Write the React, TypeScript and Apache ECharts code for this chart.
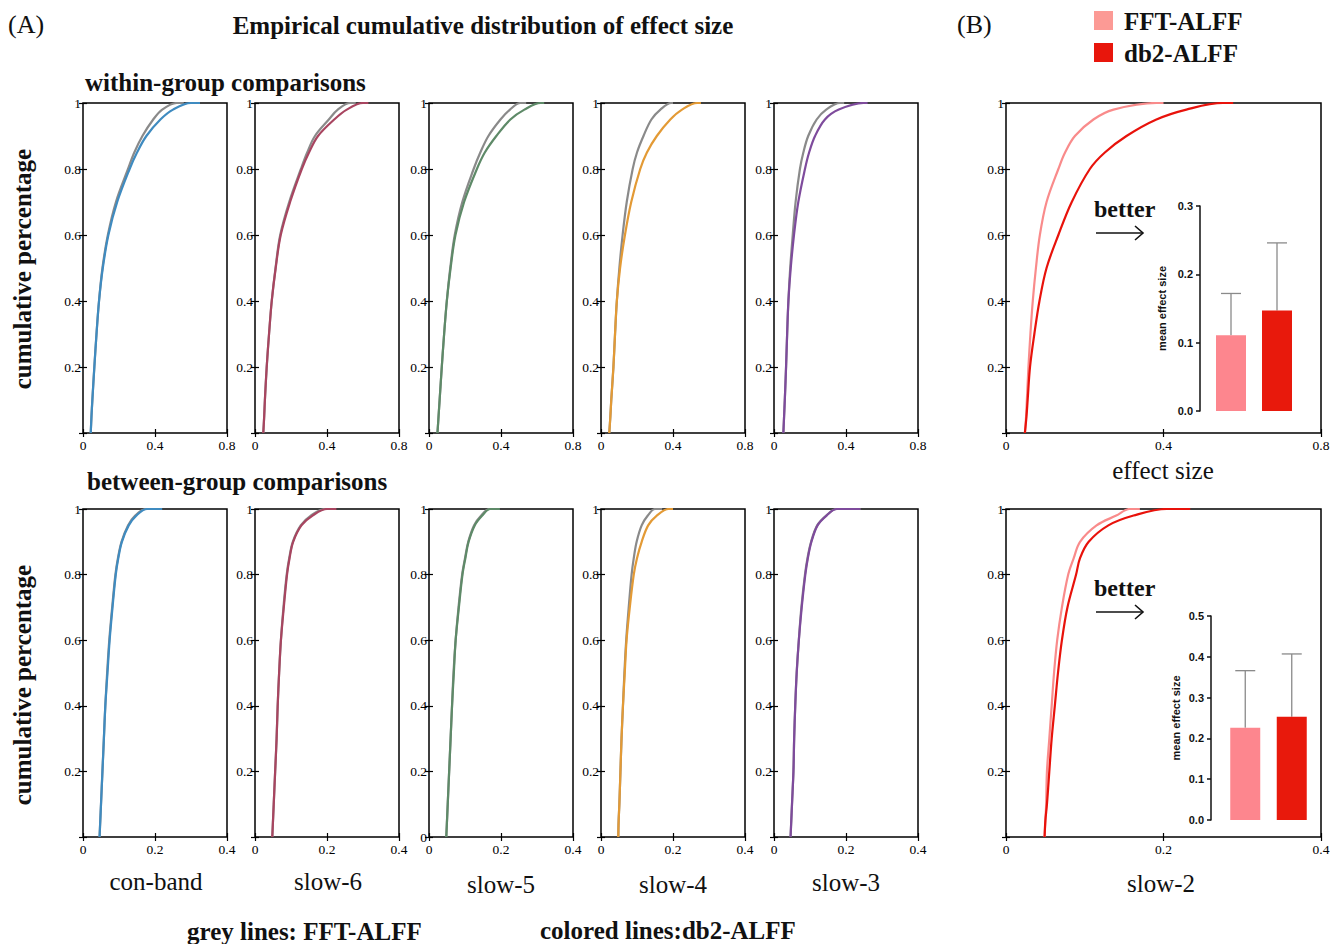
import React, { useEffect, useRef } from "react";
import * as echarts from "echarts";

// ---------- data ----------
const bandNames = ["con-band", "slow-6", "slow-5", "slow-4", "slow-3", "slow-2"];
const bandColors = ["#3f8bc0", "#a84560", "#5e8a68", "#e39a35", "#7e4b9c"];
const greyColor = "#8a8a8a";
const fftColor = "#f98b8b";
const db2Color = "#e8120b";
const fftBarColor = "#fd868e";
const db2BarColor = "#e8190c";

// cumulative levels (y) shared by every ECDF curve; last entry = tail end of the curve
const cumLevels = [0, 0.05, 0.1, 0.2, 0.3, 0.4, 0.5, 0.6, 0.7, 0.8, 0.85, 0.9, 0.95, 0.98, 1, 1];

// within-group: effect size at each cumulative level
const withinGrey = [
  [0.043, 0.047, 0.052, 0.063, 0.075, 0.089, 0.108, 0.138, 0.183, 0.25, 0.285, 0.33, 0.39, 0.44, 0.52, 0.56],
  [0.046, 0.051, 0.055, 0.065, 0.078, 0.093, 0.114, 0.14, 0.19, 0.255, 0.29, 0.333, 0.41, 0.46, 0.53, 0.56],
  [0.047, 0.053, 0.059, 0.071, 0.084, 0.099, 0.118, 0.143, 0.185, 0.248, 0.285, 0.33, 0.397, 0.45, 0.508, 0.54],
  [0.046, 0.052, 0.057, 0.069, 0.078, 0.088, 0.102, 0.12, 0.143, 0.176, 0.2, 0.236, 0.28, 0.33, 0.39, 0.4],
  [0.052, 0.056, 0.06, 0.067, 0.073, 0.08, 0.09, 0.104, 0.12, 0.144, 0.163, 0.19, 0.237, 0.29, 0.367, 0.39],
];
const withinColor = [
  [0.043, 0.047, 0.052, 0.063, 0.075, 0.089, 0.11, 0.141, 0.19, 0.259, 0.3, 0.352, 0.43, 0.5, 0.6, 0.65],
  [0.046, 0.051, 0.055, 0.065, 0.078, 0.093, 0.115, 0.143, 0.195, 0.26, 0.3, 0.35, 0.44, 0.51, 0.6, 0.63],
  [0.047, 0.053, 0.059, 0.071, 0.084, 0.099, 0.12, 0.147, 0.195, 0.266, 0.31, 0.374, 0.452, 0.53, 0.62, 0.64],
  [0.046, 0.052, 0.057, 0.069, 0.078, 0.088, 0.106, 0.133, 0.168, 0.218, 0.255, 0.31, 0.385, 0.45, 0.535, 0.555],
  [0.052, 0.056, 0.06, 0.067, 0.073, 0.08, 0.093, 0.111, 0.135, 0.172, 0.195, 0.228, 0.283, 0.36, 0.497, 0.52],
];
// between-group
const betweenGrey = [
  [0.046, 0.048, 0.05, 0.054, 0.058, 0.062, 0.067, 0.073, 0.081, 0.09, 0.097, 0.107, 0.125, 0.145, 0.175, 0.21],
  [0.048, 0.05, 0.052, 0.056, 0.06, 0.063, 0.067, 0.072, 0.079, 0.088, 0.095, 0.105, 0.127, 0.155, 0.195, 0.22],
  [0.048, 0.05, 0.052, 0.056, 0.06, 0.064, 0.068, 0.074, 0.082, 0.092, 0.1, 0.109, 0.125, 0.145, 0.168, 0.19],
  [0.048, 0.049, 0.051, 0.054, 0.057, 0.061, 0.065, 0.07, 0.077, 0.085, 0.091, 0.099, 0.113, 0.13, 0.15, 0.17],
  [0.046, 0.048, 0.05, 0.054, 0.056, 0.059, 0.063, 0.069, 0.076, 0.086, 0.093, 0.103, 0.12, 0.145, 0.174, 0.24],
];
const betweenColor = [
  [0.046, 0.048, 0.05, 0.054, 0.058, 0.062, 0.068, 0.074, 0.082, 0.091, 0.098, 0.108, 0.127, 0.148, 0.178, 0.22],
  [0.048, 0.05, 0.052, 0.056, 0.06, 0.063, 0.067, 0.072, 0.08, 0.089, 0.096, 0.106, 0.129, 0.16, 0.2, 0.226],
  [0.048, 0.05, 0.052, 0.056, 0.06, 0.064, 0.069, 0.074, 0.083, 0.093, 0.101, 0.11, 0.127, 0.148, 0.17, 0.197],
  [0.048, 0.049, 0.051, 0.054, 0.057, 0.061, 0.066, 0.071, 0.08, 0.091, 0.1, 0.113, 0.131, 0.155, 0.188, 0.2],
  [0.046, 0.048, 0.05, 0.054, 0.056, 0.059, 0.063, 0.069, 0.077, 0.087, 0.094, 0.104, 0.121, 0.146, 0.175, 0.24],
];
// slow-2 (panel B)
const slow2WithinFFT = [0.048, 0.051, 0.053, 0.057, 0.062, 0.068, 0.076, 0.086, 0.103, 0.133, 0.15, 0.175, 0.222, 0.273, 0.382, 0.4];
const slow2WithinDb2 = [0.048, 0.052, 0.055, 0.061, 0.072, 0.085, 0.103, 0.133, 0.167, 0.213, 0.251, 0.306, 0.382, 0.458, 0.551, 0.577];
const slow2BetweenFFT = [0.049, 0.05, 0.051, 0.052, 0.055, 0.058, 0.061, 0.065, 0.071, 0.079, 0.086, 0.094, 0.115, 0.14, 0.157, 0.17];
const slow2BetweenDb2 = [0.049, 0.05, 0.052, 0.055, 0.058, 0.062, 0.066, 0.071, 0.078, 0.089, 0.094, 0.105, 0.13, 0.162, 0.204, 0.234];

// inset bar charts (mean effect size, mean + sd)
const methodNames = ["FFT-ALFF", "db2-ALFF"];
const withinMeans = [0.111, 0.147];
const withinUpper = [0.172, 0.246];
const betweenMeans = [0.226, 0.253];
const betweenUpper = [0.366, 0.407];

// ---------- layout ----------
const SERIF = "'Liberation Serif', 'Times New Roman', serif";
const SANS = "'Liberation Sans', Arial, sans-serif";

const smallLefts = [83, 255, 429, 601, 774];
const SMALL_W = 144;
const TOP_Y = 103;
const TOP_H = 330;
const BOT_Y = 509;
const BOT_H = 328;
const BIG_L = 1006;
const BIG_W = 315;

function pairs(xs: number[]) {
  return xs.map((x, i) => [x, cumLevels[i]]);
}

function buildOption() {
  const grids: any[] = [];
  const xAxes: any[] = [];
  const yAxes: any[] = [];
  const series: any[] = [];

  const addCdfPanel = (
    left: number, top: number, width: number, height: number,
    xmax: number, xint: number, showZero: boolean,
    lines: { data: number[]; color: string; name: string }[]
  ) => {
    const g = grids.length;
    grids.push({
      left, top, width, height,
      show: true, borderColor: "#000", borderWidth: 1.5, backgroundColor: "transparent",
      containLabel: false,
    });
    const tickStyle = { show: true, inside: true, length: 4, lineStyle: { color: "#000", width: 1.2 } };
    xAxes.push({
      type: "value", gridIndex: g, min: 0, max: xmax, interval: xint, position: "bottom",
      axisLine: { show: false }, splitLine: { show: false }, axisTick: tickStyle,
      axisLabel: {
        margin: 5, color: "#000", fontFamily: SERIF, fontSize: 13.5,
        formatter: (v: number) => (v === 0 ? "0" : v.toFixed(1)),
      },
    });
    xAxes.push({
      type: "value", gridIndex: g, min: 0, max: xmax, interval: xint, position: "top",
      axisLine: { show: false }, splitLine: { show: false }, axisTick: tickStyle,
      axisLabel: { show: false },
    });
    yAxes.push({
      type: "value", gridIndex: g, min: 0, max: 1, interval: 0.2, position: "left",
      axisLine: { show: false }, splitLine: { show: false }, axisTick: tickStyle,
      axisLabel: {
        margin: 2, color: "#000", fontFamily: SERIF, fontSize: 13.5,
        formatter: (v: number) => (v === 0 ? (showZero ? "0" : "") : v >= 0.999 ? "1" : v.toFixed(1)),
      },
    });
    yAxes.push({
      type: "value", gridIndex: g, min: 0, max: 1, interval: 0.2, position: "right",
      axisLine: { show: false }, splitLine: { show: false }, axisTick: tickStyle,
      axisLabel: { show: false },
    });
    lines.forEach((l) => {
      series.push({
        type: "line", name: l.name, xAxisIndex: 2 * g, yAxisIndex: 2 * g,
        data: pairs(l.data), showSymbol: false, symbol: "none", smooth: 0.35,
        lineStyle: { color: l.color, width: 2.2 }, itemStyle: { color: l.color },
        silent: true,
      });
    });
  };

  // top row: within-group
  for (let i = 0; i < 5; i++) {
    addCdfPanel(smallLefts[i], TOP_Y, SMALL_W, TOP_H, 0.8, 0.4, false, [
      { data: withinGrey[i], color: greyColor, name: "FFT-ALFF " + bandNames[i] },
      { data: withinColor[i], color: bandColors[i], name: "db2-ALFF " + bandNames[i] },
    ]);
  }
  // bottom row: between-group
  for (let i = 0; i < 5; i++) {
    addCdfPanel(smallLefts[i], BOT_Y, SMALL_W, BOT_H, 0.4, 0.2, i === 2, [
      { data: betweenGrey[i], color: greyColor, name: "FFT-ALFF " + bandNames[i] },
      { data: betweenColor[i], color: bandColors[i], name: "db2-ALFF " + bandNames[i] },
    ]);
  }
  // panel B
  addCdfPanel(BIG_L, TOP_Y, BIG_W, TOP_H, 0.8, 0.4, false, [
    { data: slow2WithinFFT, color: fftColor, name: "FFT-ALFF slow-2" },
    { data: slow2WithinDb2, color: db2Color, name: "db2-ALFF slow-2" },
  ]);
  addCdfPanel(BIG_L, BOT_Y, BIG_W, BOT_H, 0.4, 0.2, false, [
    { data: slow2BetweenFFT, color: fftColor, name: "FFT-ALFF slow-2 between" },
    { data: slow2BetweenDb2, color: db2Color, name: "db2-ALFF slow-2 between" },
  ]);

  // insets
  const addInset = (
    left: number, top: number, width: number, height: number, offset: number,
    ymax: number, nameGap: number, means: number[], upper: number[]
  ) => {
    const g = grids.length;
    grids.push({ left, top, width, height, show: false });
    const xi = xAxes.length;
    xAxes.push({
      type: "category", gridIndex: g, data: methodNames, show: false,
      axisLine: { show: false }, axisTick: { show: false }, axisLabel: { show: false },
    });
    const yi = yAxes.length;
    yAxes.push({
      type: "value", gridIndex: g, min: 0, max: ymax, interval: 0.1, offset,
      position: "left",
      name: "mean effect size", nameLocation: "middle", nameGap, nameRotate: 90,
      nameTextStyle: { fontFamily: SANS, fontWeight: "bold", fontSize: 11, color: "#111" },
      axisLine: { show: true, lineStyle: { color: "#111", width: 1.5 } },
      axisTick: { show: true, inside: false, length: 4, lineStyle: { color: "#111", width: 1.5 } },
      splitLine: { show: false },
      axisLabel: {
        margin: 7, fontFamily: SANS, fontWeight: "bold", fontSize: 11, color: "#111",
        formatter: (v: number) => v.toFixed(1),
      },
    });
    series.push({
      type: "custom", xAxisIndex: xi, yAxisIndex: yi, silent: true, z: 1,
      data: means.map((m, i) => [i, upper[i], m]),
      renderItem: (params: any, api: any) => {
        const idx = api.value(0);
        const topPt = api.coord([idx, api.value(1)]);
        const basePt = api.coord([idx, api.value(2)]);
        const st = { stroke: "#8a8a8a", lineWidth: 1.3 };
        return {
          type: "group",
          children: [
            { type: "line", shape: { x1: topPt[0], y1: basePt[1], x2: topPt[0], y2: topPt[1] }, style: st },
            { type: "line", shape: { x1: topPt[0] - 10, y1: topPt[1], x2: topPt[0] + 10, y2: topPt[1] }, style: st },
          ],
        };
      },
    });
    series.push({
      type: "bar", xAxisIndex: xi, yAxisIndex: yi, barWidth: 30, silent: true, z: 2,
      data: means.map((m, i) => ({ value: m, itemStyle: { color: i === 0 ? fftBarColor : db2BarColor } })),
    });
  };
  addInset(1208, 206, 92, 205, 8, 0.3, 33, withinMeans, withinUpper);
  addInset(1222, 616, 93, 204, 11, 0.5, 30, betweenMeans, betweenUpper);

  const txt = (x: number, y: number, text: string, size: number, bold: boolean, align = "left", extra: any = {}) => ({
    type: "text", x, y, silent: true, ...extra,
    style: {
      text, fill: "#111", font: `${bold ? "bold " : ""}${size}px ${SERIF}`,
      textAlign: align, textVerticalAlign: "middle",
    },
  });

  const graphics: any[] = [
    txt(8, 24, "(A)", 26, false),
    txt(483, 25, "Empirical cumulative distribution of effect size", 25, true, "center"),
    txt(957, 24, "(B)", 26, false),
    { type: "rect", shape: { x: 1094, y: 11, width: 19, height: 19 }, style: { fill: "#fc9a95" }, silent: true },
    { type: "rect", shape: { x: 1094, y: 43, width: 19, height: 19 }, style: { fill: "#e8160c" }, silent: true },
    txt(1124, 21, "FFT-ALFF", 25, true),
    txt(1124, 53, "db2-ALFF", 25, true),
    txt(85, 82, "within-group comparisons", 25, true),
    txt(87, 481, "between-group comparisons", 25, true),
    txt(22, 269, "cumulative percentage", 25, true, "center", { rotation: Math.PI / 2 }),
    txt(22, 685, "cumulative percentage", 25, true, "center", { rotation: Math.PI / 2 }),
    txt(1163, 470, "effect size", 25, false, "center"),
    txt(156, 881, bandNames[0], 25, false, "center"),
    txt(328, 881, bandNames[1], 25, false, "center"),
    txt(501, 884, bandNames[2], 25, false, "center"),
    txt(673, 884, bandNames[3], 25, false, "center"),
    txt(846, 882, bandNames[4], 25, false, "center"),
    txt(1161, 883, bandNames[5], 25, false, "center"),
    txt(187, 931, "grey lines: FFT-ALFF", 25, true),
    txt(540, 930, "colored lines:db2-ALFF", 25, true),
    txt(1094, 209, "better", 24, true),
    txt(1094, 588, "better", 24, true),
  ];
  const arrow = (x1: number, x2: number, y: number) => [
    { type: "line", shape: { x1, y1: y, x2, y2: y }, style: { stroke: "#111", lineWidth: 1.6 }, silent: true },
    {
      type: "polyline", shape: { points: [[x2 - 8, y - 7], [x2, y], [x2 - 8, y + 7]] },
      style: { stroke: "#111", lineWidth: 1.6, fill: "none" }, silent: true,
    },
  ];
  graphics.push(...arrow(1096, 1143, 233), ...arrow(1096, 1143, 612));

  return {
    animation: false,
    backgroundColor: "#fff",
    grid: grids,
    xAxis: xAxes,
    yAxis: yAxes,
    series,
    graphic: { elements: graphics },
  };
}

export default function App() {
  const ref = useRef<HTMLDivElement>(null);
  useEffect(() => {
    if (!ref.current) return;
    const chart = echarts.init(ref.current, null, { renderer: "svg" });
    chart.setOption(buildOption() as any);
    return () => chart.dispose();
  }, []);
  return (
    <div
      ref={ref}
      style={{ position: "absolute", left: 0, top: 0, width: 1341, height: 944, background: "#fff" }}
    />
  );
}
